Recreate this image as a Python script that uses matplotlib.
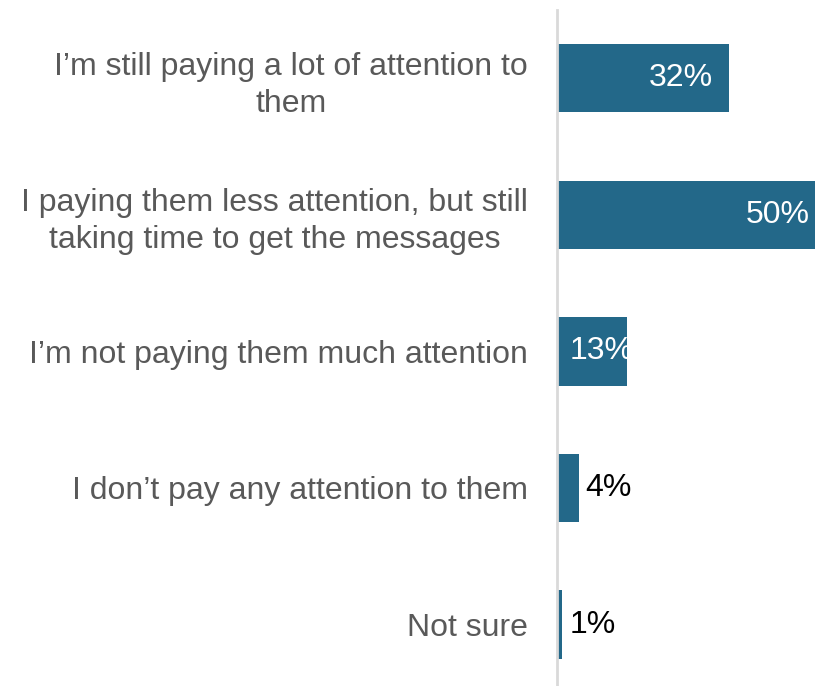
import matplotlib.pyplot as plt

answers = [
    "I\u2019m still paying a lot of attention to\nthem",
    "I paying them less attention, but still\ntaking time to get the messages",
    "I\u2019m not paying them much attention",
    "I don\u2019t pay any attention to them",
    "Not sure",
]
shares = [32, 50, 13, 4, 1]

bar_col = '#236889'
plt.rcParams['font.family'] = ['Liberation Sans', 'DejaVu Sans']

fig = plt.figure(figsize=(8.15, 6.86), dpi=100)
ax = fig.add_axes([557/815, 0, 1 - 557/815, 1 - 10/686])

pos = list(range(len(answers)))
ax.barh(pos, shares, height=0.5, color=bar_col)
ax.set_xlim(0, 48)
ax.set_ylim(4.45, -0.5)

ax.set_yticks(pos)
ax.set_yticklabels(answers, fontsize=23, color='#595959')
for t in ax.get_yticklabels():
    t.set_multialignment('center')
    t.set_linespacing(1.3)
ax.tick_params(axis='y', length=0, pad=21)
ax.set_xticks([])

for s in ['top', 'right', 'bottom']:
    ax.spines[s].set_visible(False)
ax.spines['left'].set_color('#d9d9d9')
ax.spines['left'].set_linewidth(2)

# data labels: inside end for big bars, inside base for mid, outside for small
for y, v in zip(pos, shares):
    lab = f"{v}%"
    if v >= 20:
        ax.annotate(lab, (v, y), xytext=(-16, 0), textcoords='offset pixels',
                    ha='right', va='center', fontsize=23, color='white',
                    annotation_clip=False)
    elif v >= 10:
        ax.annotate(lab, (0, y), xytext=(13, 0), textcoords='offset pixels',
                    ha='left', va='center', fontsize=23, color='white')
    else:
        ax.annotate(lab, (v, y), xytext=(7, 0), textcoords='offset pixels',
                    ha='left', va='center', fontsize=23, color='black')

fig.savefig('out.png', dpi=100)
